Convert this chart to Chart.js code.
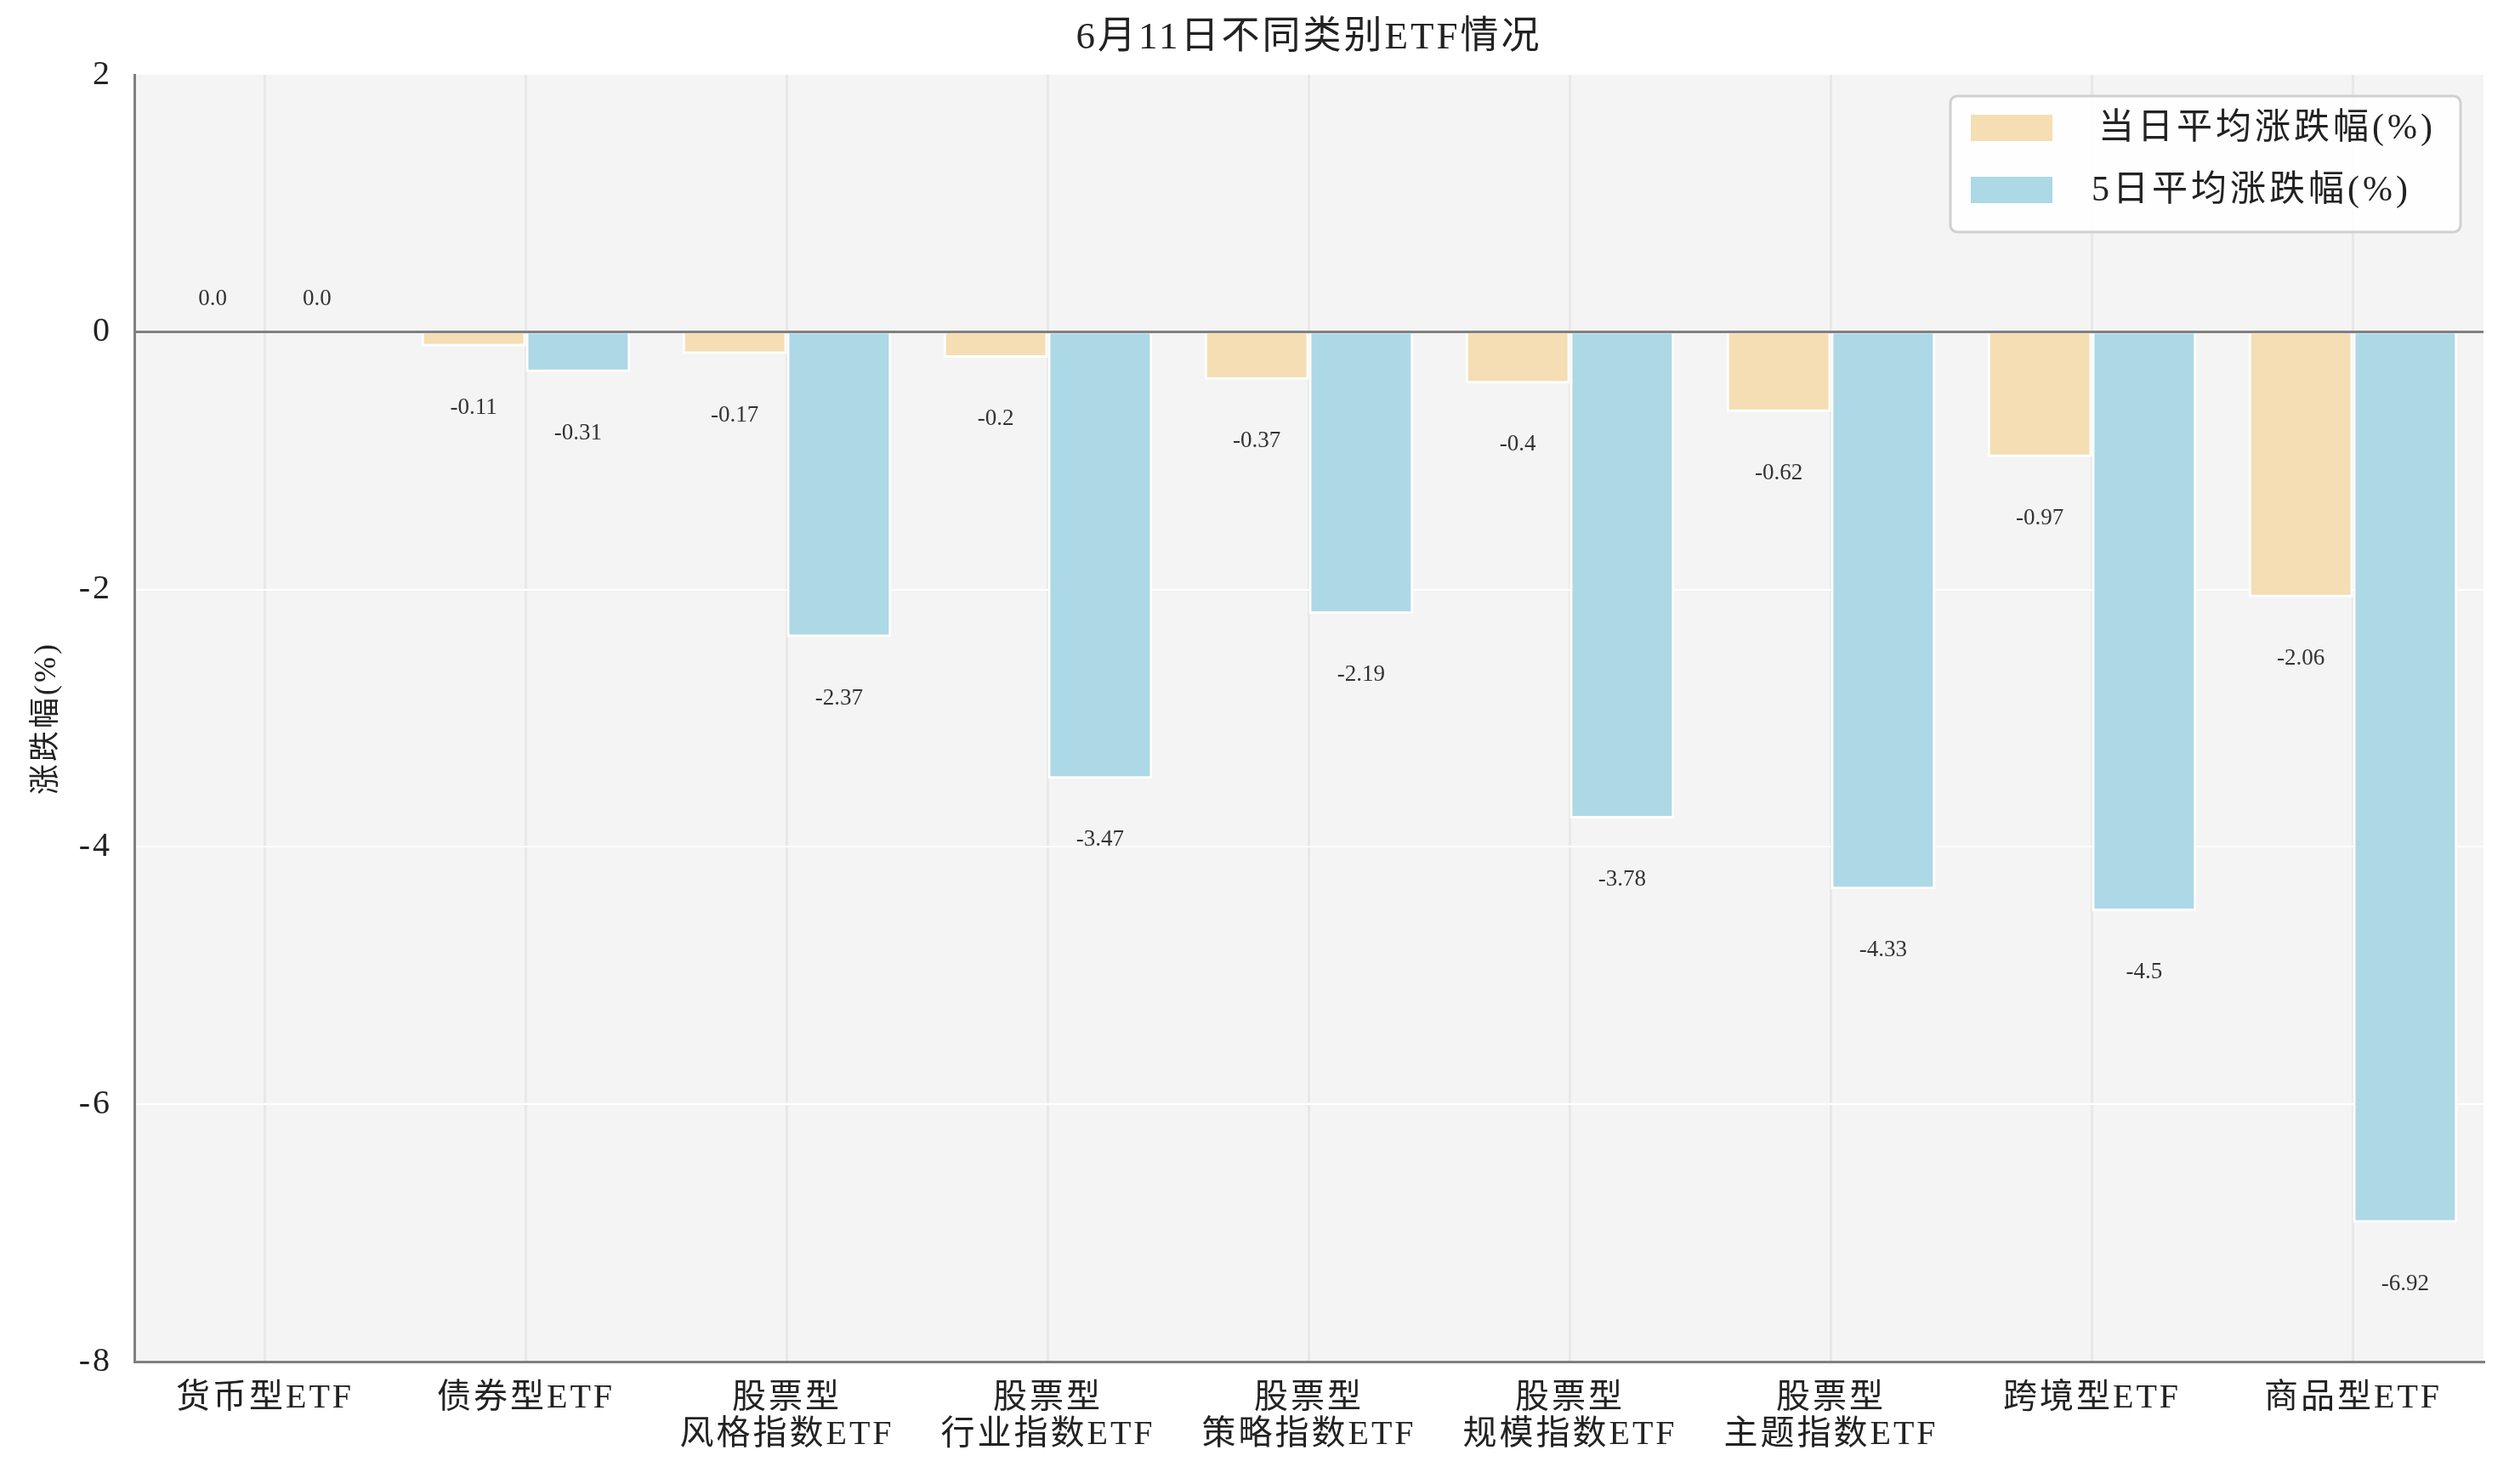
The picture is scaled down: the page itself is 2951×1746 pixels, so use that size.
<!DOCTYPE html>
<html>
<head>
<meta charset="utf-8">
<script src="https://cdn.jsdelivr.net/npm/chart.js@4.4.1/dist/chart.umd.min.js"></script>
<style>
  html, body { margin: 0; padding: 0; background: #fff; }
  #wrap { width: 2951px; height: 1746px; position: relative; }
</style>
</head>
<body>
<div id="wrap"><canvas id="chart"></canvas></div>
<script>
const FONT = "'Liberation Serif', 'Noto Sans CJK SC', serif";

const categories = [
  '货币型ETF',
  '债券型ETF',
  ['股票型', '风格指数ETF'],
  ['股票型', '行业指数ETF'],
  ['股票型', '策略指数ETF'],
  ['股票型', '规模指数ETF'],
  ['股票型', '主题指数ETF'],
  '跨境型ETF',
  '商品型ETF'
];
const seriesNames = ['当日平均涨跌幅(%)', '5日平均涨跌幅(%)'];
const todayChange = [0.0, -0.11, -0.17, -0.2, -0.37, -0.4, -0.62, -0.97, -2.06];
const fiveDayChange = [0.0, -0.31, -2.37, -3.47, -2.19, -3.78, -4.33, -4.5, -6.92];
const yTicks = [2, 0, -2, -4, -6, -8];

const colors = {
  today: '#F5DEB3',
  fiveDay: '#ADD8E6',
  plotBg: '#f4f4f4',
  spine: '#808080',
  text: '#222222'
};

// letter spacing for every canvas text, set before layout so measuring agrees
const spacingPlugin = {
  id: 'spacing',
  beforeInit(chart) { chart.ctx.letterSpacing = '3px'; },
  beforeLayout(chart) { chart.ctx.letterSpacing = '3px'; },
  beforeDraw(chart) { chart.ctx.letterSpacing = '3px'; }
};

const plotBgPlugin = {
  id: 'plotBg',
  beforeDraw(chart) {
    const { ctx, chartArea: a } = chart;
    ctx.save();
    ctx.fillStyle = colors.plotBg;
    ctx.fillRect(a.left, a.top, a.right - a.left, a.bottom - a.top);
    ctx.restore();
  }
};

function fmt(v) {
  return v === 0 ? '0.0' : String(v);
}

// value labels under (or over) each bar end
const valueLabelPlugin = {
  id: 'valueLabels',
  afterDatasetsDraw(chart) {
    const { ctx } = chart;
    ctx.save();
    ctx.font = '27px ' + FONT;
    ctx.fillStyle = '#333';
    ctx.textAlign = 'center';
    ctx.textBaseline = 'middle';
    ctx.letterSpacing = '0px';
    chart.data.datasets.forEach((ds, i) => {
      const meta = chart.getDatasetMeta(i);
      meta.data.forEach((bar, j) => {
        const v = ds.data[j];
        const y = v < 0 ? bar.y + 72 : bar.y - 39;
        ctx.fillText(fmt(v), bar.x, y);
      });
    });
    ctx.restore();
  }
};

// framed legend box in the top right corner of the plot
const legendBoxPlugin = {
  id: 'legendBox',
  afterDraw(chart) {
    const { ctx, chartArea: a } = chart;
    const w = 600, h = 160;
    const x = a.right - 27 - w, y = a.top + 25;
    ctx.save();
    ctx.beginPath();
    ctx.roundRect(x, y, w, h, 8);
    ctx.fillStyle = 'rgba(255,255,255,0.85)';
    ctx.fill();
    ctx.lineWidth = 3;
    ctx.strokeStyle = '#d0d0d0';
    ctx.stroke();
    ctx.font = '42px ' + FONT;
    ctx.textBaseline = 'middle';
    ctx.textAlign = 'left';
    ctx.letterSpacing = '4px';
    chart.data.datasets.forEach((ds, i) => {
      const cy = y + 37 + i * 73;
      ctx.fillStyle = ds.backgroundColor;
      ctx.fillRect(x + 24, cy - 15, 96, 31);
      ctx.fillStyle = colors.text;
      ctx.fillText(ds.label, x + (i === 0 ? 174 : 166), cy + 2);
    });
    ctx.restore();
  }
};

new Chart(document.getElementById('chart'), {
  type: 'bar',
  data: {
    labels: categories,
    datasets: [
      { label: seriesNames[0], data: todayChange, backgroundColor: colors.today, borderColor: '#ffffff', borderWidth: 3 },
      { label: seriesNames[1], data: fiveDayChange, backgroundColor: colors.fiveDay, borderColor: '#ffffff', borderWidth: 3 }
    ]
  },
  plugins: [spacingPlugin, plotBgPlugin, valueLabelPlugin, legendBoxPlugin],
  options: {
    responsive: true,
    maintainAspectRatio: false,
    animation: false,
    layout: { padding: { left: 10, right: 30, top: 0, bottom: 0 } },
    datasets: { bar: { categoryPercentage: 0.8, barPercentage: 1.0 } },
    plugins: {
      legend: { display: false },
      tooltip: { enabled: false },
      title: {
        display: true,
        fullSize: false,
        text: '6月11日不同类别ETF情况',
        color: colors.text,
        font: { family: FONT, size: 45, weight: 'normal' },
        padding: { top: 18, bottom: 16 }
      }
    },
    scales: {
      x: {
        grid: { offset: false, color: '#e8e8e8', lineWidth: 3, drawTicks: false },
        border: { color: colors.spine, width: 3 },
        ticks: {
          color: colors.text,
          padding: 22,
          maxRotation: 0,
          autoSkip: false,
          font: { family: FONT, size: 40, lineHeight: 1.08 }
        },
        afterFit(scale) { scale.height = 144; }
      },
      y: {
        min: -8,
        max: 2,
        afterBuildTicks(scale) { scale.ticks = yTicks.map(v => ({ value: v })); },
        grid: {
          drawTicks: false,
          color: c => c.tick.value === 0 ? colors.spine : (c.tick.value === 2 ? 'rgba(0,0,0,0)' : '#ffffff'),
          lineWidth: c => c.tick.value === 0 ? 3 : 2
        },
        border: { color: colors.spine, width: 3 },
        ticks: {
          color: colors.text,
          padding: 26,
          font: { family: FONT, size: 40 }
        },
        title: {
          display: true,
          text: '涨跌幅(%)',
          color: colors.text,
          font: { family: FONT, size: 36 },
          padding: { top: 24, bottom: 0 }
        },
        afterFit(scale) { scale.width = 148; }
      }
    }
  }
});
</script>
</body>
</html>
